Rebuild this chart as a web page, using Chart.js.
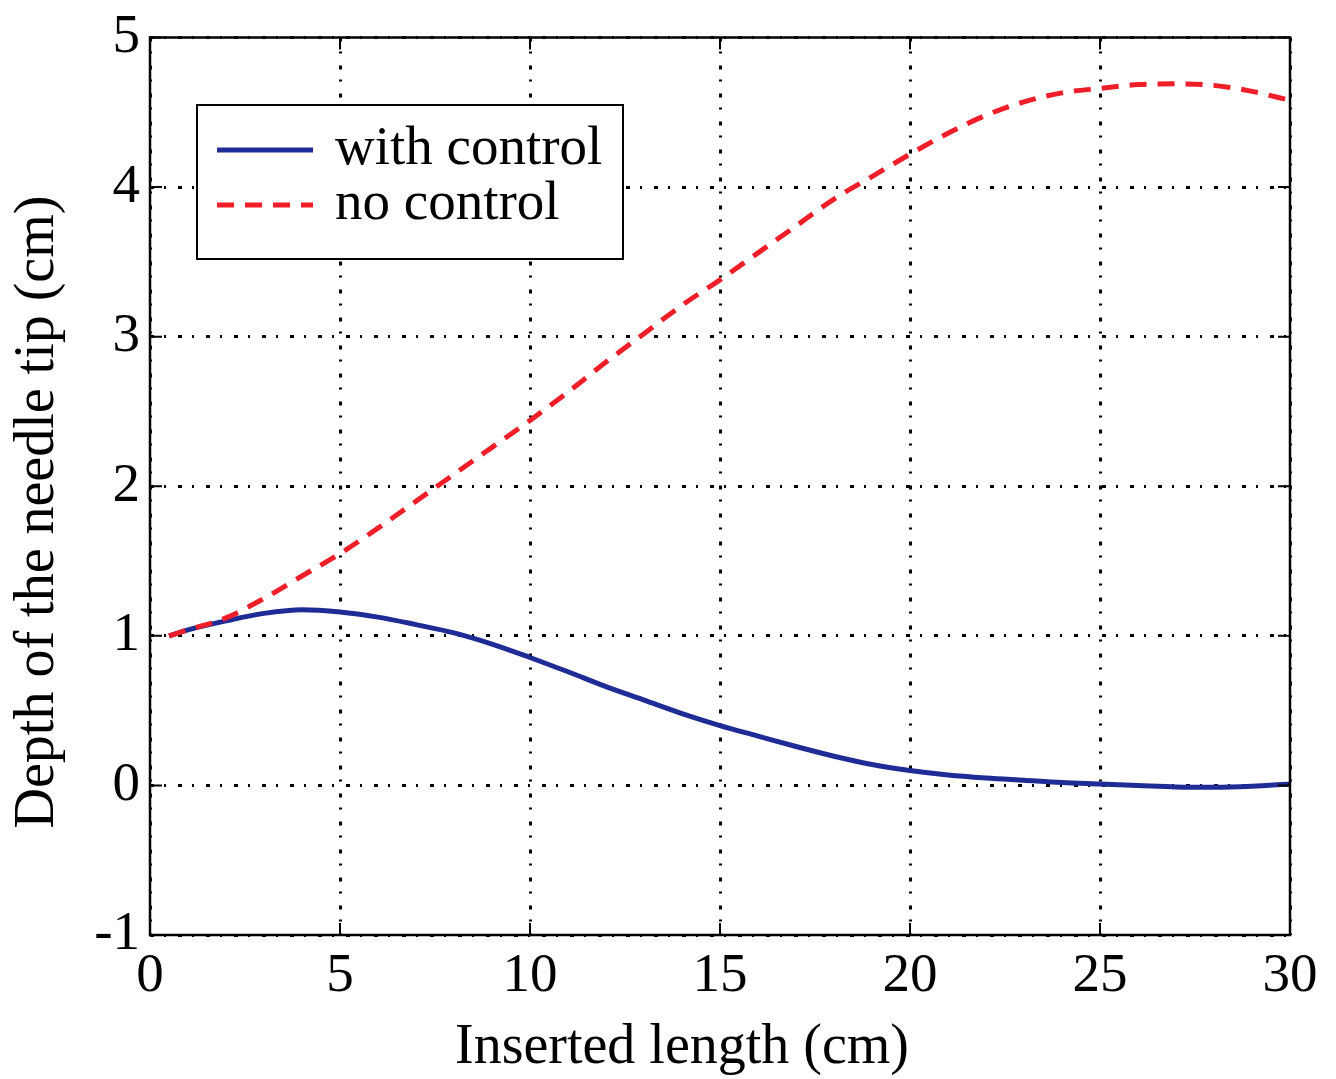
<!DOCTYPE html>
<html>
<head>
<meta charset="utf-8">
<title>Depth of the needle tip</title>
<script src="https://cdn.jsdelivr.net/npm/chart.js@4.4.0/dist/chart.umd.min.js"></script>
<style>
  html, body { margin: 0; padding: 0; background: #fff; }
  #wrap { width: 1336px; height: 1079px; }
</style>
</head>
<body>
<div id="wrap"><canvas id="grafico" width="1336" height="1079"></canvas></div>
<script>
// Data
const insertedLength = [0.5, 1, 2, 3, 4, 5, 6, 7, 8, 9, 10, 11, 12, 13, 14, 15, 16, 17, 18, 19, 20, 21, 22, 23, 24, 25, 26, 27, 28, 29, 30];
const withControl = [1.00, 1.04, 1.10, 1.15, 1.175, 1.16, 1.125, 1.075, 1.02, 0.945, 0.855, 0.76, 0.66, 0.57, 0.48, 0.40, 0.33, 0.26, 0.195, 0.14, 0.10, 0.07, 0.05, 0.035, 0.02, 0.01, 0.0, -0.01, -0.012, -0.005, 0.01];
const noControl = [1.00, 1.04, 1.12, 1.25, 1.40, 1.55, 1.72, 1.90, 2.08, 2.26, 2.44, 2.63, 2.83, 3.02, 3.21, 3.38, 3.56, 3.74, 3.92, 4.07, 4.22, 4.36, 4.48, 4.57, 4.63, 4.66, 4.685, 4.69, 4.68, 4.64, 4.58];
const xTicks = [0, 5, 10, 15, 20, 25, 30];
const yTicks = [-1, 0, 1, 2, 3, 4, 5];
const seriesNames = ['with control', 'no control'];
const xTitle = 'Inserted length (cm)';
const yTitle = 'Depth of the needle tip (cm)';

const AZUL = '#1f2c96';
const ROJO = '#f01e28';
const FUENTE = '"Liberation Serif", "Times New Roman", serif';
const gridDash = [4, 10, 2, 12];

function toPoints(ys) {
    return insertedLength.map((x, i) => ({ x: x, y: ys[i] }));
}

// Box, inner ticks, axis titles and legend
const marcoPlugin = {
    id: 'marco',
    afterDraw(chart) {
        const ctx = chart.ctx;
        const a = chart.chartArea;
        const sx = chart.scales.x, sy = chart.scales.y;
        ctx.save();
        ctx.strokeStyle = '#000';
        ctx.lineWidth = 2.5;
        ctx.setLineDash([]);
        ctx.strokeRect(a.left, a.top, a.right - a.left, a.bottom - a.top);

        // inner ticks
        const tl = 12;
        ctx.lineWidth = 2;
        ctx.beginPath();
        xTicks.forEach(v => {
            const px = sx.getPixelForValue(v);
            ctx.moveTo(px, a.bottom); ctx.lineTo(px, a.bottom - tl);
            ctx.moveTo(px, a.top); ctx.lineTo(px, a.top + tl);
        });
        yTicks.forEach(v => {
            const py = sy.getPixelForValue(v);
            ctx.moveTo(a.left, py); ctx.lineTo(a.left + tl, py);
            ctx.moveTo(a.right, py); ctx.lineTo(a.right - tl, py);
        });
        ctx.stroke();

        // axis titles
        ctx.fillStyle = '#000';
        ctx.font = '56px ' + FUENTE;
        ctx.textAlign = 'center';
        ctx.textBaseline = 'middle';
        ctx.fillText(xTitle, 682, 1048);
        ctx.save();
        ctx.translate(38, 512);
        ctx.rotate(-Math.PI / 2);
        ctx.fillText(yTitle, 0, 0);
        ctx.restore();

        // legend
        const lx = 197, ly = 105, lw = 426, lh = 154;
        ctx.fillStyle = '#fff';
        ctx.fillRect(lx, ly, lw, lh);
        ctx.strokeStyle = '#000';
        ctx.lineWidth = 2;
        ctx.strokeRect(lx, ly, lw, lh);

        const filas = [150, 205];
        chart.data.datasets.forEach((ds, i) => {
            const y = filas[i];
            ctx.strokeStyle = ds.borderColor;
            ctx.lineWidth = ds.borderWidth;
            ctx.setLineDash(ds.borderDash || []);
            ctx.beginPath();
            ctx.moveTo(217, y);
            ctx.lineTo(313, y);
            ctx.stroke();
            ctx.setLineDash([]);
            ctx.fillStyle = '#000';
            ctx.font = '55px ' + FUENTE;
            ctx.textBaseline = 'middle';
            ctx.textAlign = 'left';
            ctx.fillText(ds.label, 335, y);
        });
        ctx.restore();
    }
};

const ctx = document.getElementById('grafico').getContext('2d');

new Chart(ctx, {
    type: 'line',
    data: {
        datasets: [{
            label: seriesNames[0],
            data: toPoints(withControl),
            borderColor: AZUL,
            borderWidth: 5,
            pointRadius: 0,
            cubicInterpolationMode: 'monotone',
            order: 1
        }, {
            label: seriesNames[1],
            data: toPoints(noControl),
            borderColor: ROJO,
            borderWidth: 5,
            borderDash: [17, 11],
            pointRadius: 0,
            cubicInterpolationMode: 'monotone',
            order: 0
        }]
    },
    options: {
        responsive: false,
        animation: false,
        layout: { padding: { top: 37, right: 46, left: 0, bottom: 0 } },
        plugins: {
            legend: { display: false },
            tooltip: { enabled: false }
        },
        scales: {
            x: {
                type: 'linear',
                min: 0,
                max: 30,
                afterFit: (s) => { s.height = 144; },
                afterBuildTicks: (s) => { s.ticks = xTicks.map(v => ({ value: v })); },
                ticks: {
                    color: '#000',
                    font: { family: FUENTE, size: 55, lineHeight: 1 },
                    padding: 14,
                    maxRotation: 0
                },
                grid: {
                    color: '#000',
                    lineWidth: 3,
                    drawTicks: false
                },
                border: { display: false, dash: gridDash }
            },
            y: {
                type: 'linear',
                min: -1,
                max: 5,
                afterFit: (s) => { s.width = 150; },
                afterBuildTicks: (s) => { s.ticks = yTicks.map(v => ({ value: v })); },
                ticks: {
                    color: '#000',
                    font: { family: FUENTE, size: 55, lineHeight: 1 },
                    padding: 10,
                    callback: (v) => String(v)
                },
                grid: {
                    color: '#000',
                    lineWidth: 3,
                    drawTicks: false
                },
                border: { display: false, dash: gridDash }
            }
        }
    },
    plugins: [marcoPlugin]
});
</script>
</body>
</html>
